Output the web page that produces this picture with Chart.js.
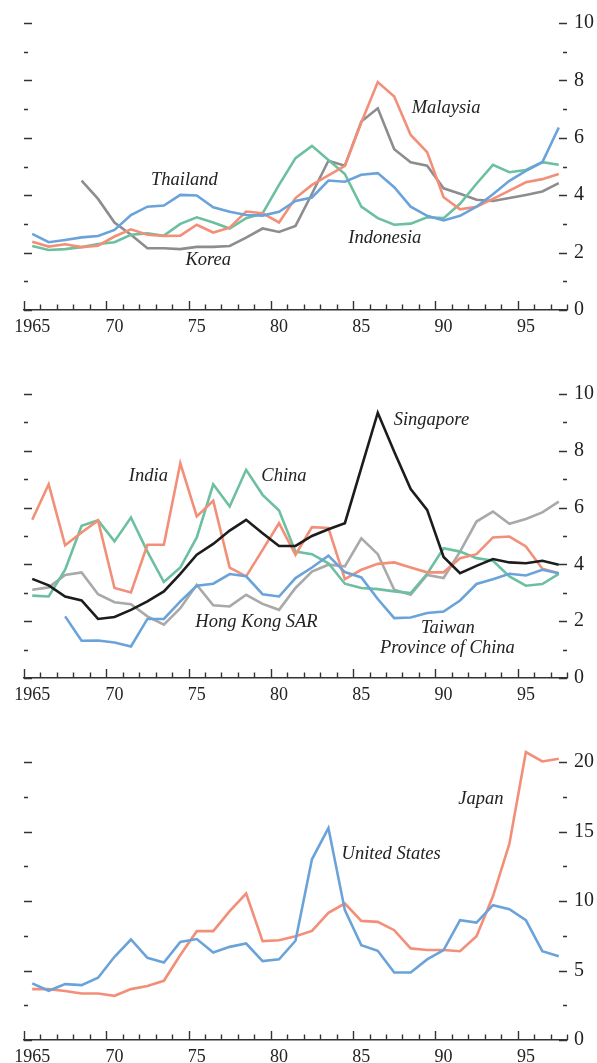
<!DOCTYPE html>
<html>
<head>
<meta charset="utf-8">
<script src="https://cdn.jsdelivr.net/npm/chart.js@4/dist/chart.umd.min.js"></script>
<style>
  html, body { margin: 0; padding: 0; background: #fff; overflow: hidden; }
  .panel { position: absolute; left: 0; }
  canvas { display: block; }
</style>
</head>
<body>
<div class="panel" style="top:0px"><canvas id="c1" width="597" height="340"></canvas></div>
<div class="panel" style="top:370px"><canvas id="c2" width="597" height="338"></canvas></div>
<div class="panel" style="top:740px"><canvas id="c3" width="597" height="323"></canvas></div>
<script>
// Years covered by every panel
const years = [1965,1966,1967,1968,1969,1970,1971,1972,1973,1974,1975,1976,1977,1978,1979,1980,1981,
               1982,1983,1984,1985,1986,1987,1988,1989,1990,1991,1992,1993,1994,1995,1996,1997];

// Bottom axis labels (years at which a label is shown)
const xLabelYears = [1965, 1970, 1975, 1980, 1985, 1990, 1995];
const xLabelTexts = ['1965', '70', '75', '80', '85', '90', '95'];

// Top panel
const thailand  = [2.65,2.36,2.44,2.53,2.58,2.79,3.31,3.60,3.64,4.01,3.99,3.58,3.42,3.31,3.29,3.42,3.80,
                   3.92,4.51,4.47,4.71,4.77,4.28,3.60,3.28,3.12,3.28,3.60,4.03,4.50,4.85,5.15,6.36];
const korea     = [null,null,null,4.51,3.87,3.05,2.62,2.15,2.15,2.12,2.20,2.20,2.23,2.52,2.84,2.72,2.93,
                   4.05,5.20,5.03,6.57,7.03,5.60,5.15,5.03,4.24,4.05,3.84,3.80,3.90,4.01,4.13,4.42];
const malaysia  = [2.38,2.21,2.29,2.19,2.24,2.56,2.81,2.62,2.58,2.59,2.97,2.70,2.87,3.43,3.37,3.05,3.90,
                   4.36,4.69,5.02,6.53,7.94,7.44,6.10,5.50,3.93,3.51,3.60,3.87,4.16,4.45,4.56,4.74];
const indonesia = [2.23,2.09,2.12,2.19,2.30,2.36,2.62,2.67,2.59,3.00,3.23,3.05,2.84,3.20,3.37,4.36,5.29,
                   5.72,5.23,4.74,3.60,3.20,2.97,3.01,3.23,3.20,3.70,4.40,5.06,4.80,4.88,5.15,5.06];

// Middle panel
const singapore = [3.49,3.26,2.87,2.73,2.08,2.15,2.40,2.70,3.05,3.67,4.34,4.72,5.19,5.57,5.10,4.65,4.65,
                   5.00,5.24,5.45,7.40,9.34,7.97,6.65,5.92,4.26,3.69,3.95,4.19,4.07,4.04,4.13,3.99];
const india     = [5.57,6.82,4.67,5.12,5.55,3.17,3.01,4.69,4.69,7.56,5.69,6.24,3.89,3.58,4.51,5.45,4.34,
                   5.31,5.28,3.48,3.81,4.02,4.07,3.89,3.72,3.72,4.22,4.36,4.95,4.98,4.63,3.85,3.69];
const china     = [2.90,2.87,3.81,5.36,5.55,4.81,5.65,4.45,3.38,3.89,4.95,6.82,6.04,7.33,6.45,5.90,4.45,
                   4.36,4.04,3.32,3.17,3.13,3.05,2.99,3.67,4.57,4.45,4.22,4.13,3.58,3.25,3.31,3.67];
const hongKong  = [3.11,3.19,3.63,3.72,2.95,2.67,2.60,2.17,1.88,2.46,3.28,2.56,2.52,2.93,2.61,2.40,3.17,
                   3.75,3.99,3.93,4.92,4.36,3.11,2.93,3.63,3.52,4.45,5.51,5.86,5.43,5.60,5.83,6.21];
const taiwan    = [null,null,2.17,1.31,1.32,1.25,1.11,2.08,2.08,2.70,3.25,3.32,3.66,3.58,2.95,2.87,3.52,
                   3.89,4.31,3.73,3.54,2.78,2.11,2.13,2.29,2.34,2.73,3.31,3.48,3.67,3.61,3.81,3.69];

// Bottom panel
const unitedStates = [4.07,3.54,4.02,3.95,4.48,5.99,7.23,5.91,5.58,7.06,7.26,6.30,6.70,6.94,5.68,5.80,7.14,
                      13.00,15.25,9.34,6.82,6.42,4.86,4.86,5.80,6.47,8.62,8.45,9.70,9.41,8.62,6.39,6.03];
const japan        = [3.66,3.66,3.52,3.35,3.35,3.18,3.66,3.88,4.26,6.11,7.83,7.83,9.27,10.54,7.11,7.18,7.47,
                      7.85,9.15,9.82,8.57,8.50,7.90,6.59,6.47,6.47,6.39,7.47,10.34,14.13,20.71,20.04,20.23];

// Series names placed beside the lines: [text, year, value]
const labels1 = [['Thailand', 1974.75, 4.53], ['Korea', 1976.2, 1.74],
                 ['Malaysia', 1990.65, 7.04], ['Indonesia', 1986.93, 2.5]];
const labels2 = [['India', 1972.56, 7.12], ['China', 1980.8, 7.12], ['Singapore', 1989.76, 9.09],
                 ['Hong Kong SAR', 1979.13, 1.97], ['Taiwan', 1990.76, 1.76],
                 ['Province of China', 1990.73, 1.06]];
const labels3 = [['Japan', 1992.76, 17.36], ['United States', 1987.31, 13.34]];

const COLORS = {
  blue: '#6aa3da',
  salmon: '#f38f78',
  green: '#6cc09f',
  gray: '#8d8d90',
  lightGray: '#a9a9a9',
  black: '#1c1c1c',
  ink: '#2a2a2a'
};

Chart.defaults.font.family = '"Liberation Serif", "Times New Roman", serif';
Chart.defaults.color = COLORS.ink;

function series(values, color) {
  return {
    data: years.map((yr, i) => ({ x: yr + 0.5, y: values[i] })),
    borderColor: color,
    borderWidth: 2.6,
    pointRadius: 0,
    tension: 0,
    fill: false,
    clip: false,
    spanGaps: false
  };
}

// Tick marks drawn inward from both vertical edges and up from the bottom axis,
// plus italic series names.
const panelDecor = {
  id: 'panelDecor',
  afterDatasetsDraw(chart, args, opts) {
    const { ctx, chartArea, scales } = chart;
    const xs = scales.x, ys = scales.y;
    ctx.save();
    ctx.strokeStyle = '#333';
    ctx.lineWidth = 1.4;
    ctx.beginPath();
    ys.ticks.forEach(t => {
      const py = Math.round(ys.getPixelForValue(t.value)) + 0.5;
      const major = t.label !== '';
      const len = major ? 8 : 4;
      ctx.moveTo(chartArea.left, py); ctx.lineTo(chartArea.left + len, py);
      ctx.moveTo(chartArea.right, py); ctx.lineTo(chartArea.right - len, py);
    });
    for (let yr = xs.min; yr <= xs.max; yr++) {
      const px = Math.round(xs.getPixelForValue(yr)) + 0.5;
      const len = (yr % 5 === 0) ? 9 : 5.5;
      ctx.moveTo(px, chartArea.bottom); ctx.lineTo(px, chartArea.bottom - len);
    }
    ctx.stroke();

    ctx.fillStyle = '#222';
    ctx.font = 'italic 18.5px "Liberation Serif", "Times New Roman", serif';
    ctx.textAlign = 'center';
    ctx.textBaseline = 'middle';
    opts.labels.forEach(([text, yr, v]) => {
      ctx.fillText(text, xs.getPixelForValue(yr), ys.getPixelForValue(v));
    });
    ctx.restore();
  }
};

function makePanel(id, datasets, yMax, yStep, yLabelStep, topPad, xAxisHeight, labels) {
  return new Chart(document.getElementById(id), {
    type: 'line',
    data: { datasets },
    options: {
      responsive: false,
      animation: false,
      events: [],
      layout: { padding: { left: 23, right: 0, top: topPad, bottom: 0 } },
      plugins: {
        legend: { display: false },
        tooltip: { enabled: false },
        panelDecor: { labels }
      },
      scales: {
        x: {
          type: 'linear',
          min: 1965,
          max: 1998,
          grid: { display: false, drawTicks: false },
          border: { display: true, color: '#333', width: 1.4 },
          ticks: {
            stepSize: 1,
            autoSkip: false,
            maxRotation: 0,
            minRotation: 0,
            padding: 6,
            labelOffset: 8.25,
            font: { size: 18 },
            color: '#222',
            callback: v => {
              const i = xLabelYears.indexOf(v);
              return i >= 0 ? xLabelTexts[i] : '';
            }
          },
          afterFit: s => { s.height = xAxisHeight; }
        },
        y: {
          position: 'right',
          min: 0,
          max: yMax,
          grid: { display: false, drawTicks: false },
          border: { display: false },
          ticks: {
            stepSize: yStep,
            autoSkip: false,
            padding: 7,
            font: { size: 20 },
            color: '#222',
            callback: v => (Math.abs(v / yLabelStep - Math.round(v / yLabelStep)) < 1e-6 ? String(v) : '')
          },
          afterFit: s => { s.width = 30; }
        }
      }
    },
    plugins: [panelDecor]
  });
}

makePanel('c1', [
  series(thailand, COLORS.blue),
  series(malaysia, COLORS.salmon),
  series(indonesia, COLORS.green),
  series(korea, COLORS.gray)
], 10, 1, 2, 23, 30, labels1);

makePanel('c2', [
  series(singapore, COLORS.black),
  series(taiwan, COLORS.blue),
  series(india, COLORS.salmon),
  series(china, COLORS.green),
  series(hongKong, COLORS.lightGray)
], 10, 1, 2, 24, 30, labels2);

makePanel('c3', [
  series(unitedStates, COLORS.blue),
  series(japan, COLORS.salmon)
], 20, 2.5, 5, 22, 23, labels3);
</script>
</body>
</html>
